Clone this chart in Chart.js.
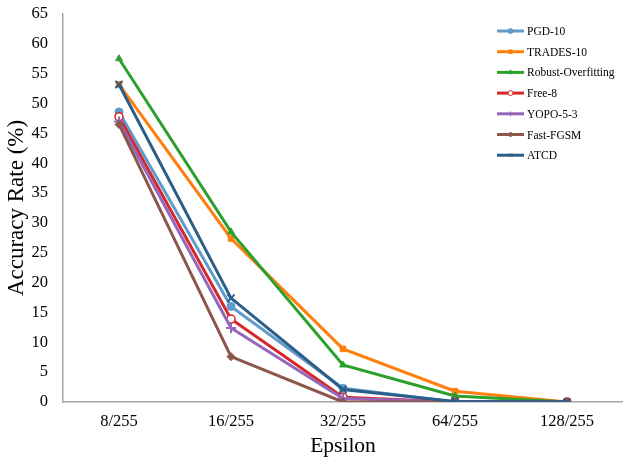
<!DOCTYPE html>
<html>
<head>
<meta charset="utf-8">
<script src="https://cdn.jsdelivr.net/npm/chart.js@4.4.0/dist/chart.umd.min.js"></script>
<style>
  html, body { margin: 0; padding: 0; background: #fff; }
  #wrap { width: 623px; height: 459px; }
</style>
</head>
<body>
<div id="wrap"><canvas id="chart"></canvas></div>
<script>
// epsilon levels on the x axis
const epsilons = ['8/255', '16/255', '32/255', '64/255', '128/255'];

// accuracy rate (%)
const pgd10   = [48.6, 16.0, 2.3, 0.0, 0.0];
const trades10 = [53.2, 27.4, 8.9, 1.8, 0.0];
const robustOF = [57.5, 28.5, 6.2, 1.0, 0.0];
const free8   = [47.8, 13.9, 0.8, 0.0, 0.0];
const yopo53  = [47.0, 12.4, 0.6, 0.0, 0.0];
const fastFgsm = [46.5, 7.6, 0.0, 0.0, 0.0];
const atcd    = [53.2, 17.4, 2.1, 0.1, 0.0];

const seriesNames = ['PGD-10', 'TRADES-10', 'Robust-Overfitting', 'Free-8', 'YOPO-5-3', 'Fast-FGSM', 'ATCD'];
const seriesData = [pgd10, trades10, robustOF, free8, yopo53, fastFgsm, atcd];
const seriesColors = ['#5f9bcb', '#ff7f0e', '#2ca02c', '#d62728', '#9467bd', '#8c564b', '#2b5e88'];
const seriesMarkers = ['circle', 'rect', 'triangle', 'circle', 'cross', 'rectRot', 'crossRot'];

const serif = "'Liberation Serif', 'Times New Roman', serif";

const datasets = seriesNames.map((name, i) => ({
    label: name,
    data: seriesData[i],
    borderColor: seriesColors[i],
    backgroundColor: i === 3 ? '#ffffff' : seriesColors[i],
    borderWidth: 3,
    pointStyle: seriesMarkers[i],
    pointRadius: i === 4 || i === 6 ? 5 : 4,
    pointBorderWidth: i === 3 ? 1.5 : (i === 4 || i === 6 ? 2 : 1),
    pointBorderColor: seriesColors[i],
    tension: 0,
    fill: false,
    order: seriesNames.length - i  // last series drawn on top
}));

// legend drawn inside the plot area, line with a small marker in the middle
const insideLegend = {
    id: 'insideLegend',
    afterDatasetsDraw(chart) {
        const ctx = chart.ctx;
        const x0 = 497, y0 = 31, step = 20.7;
        ctx.save();
        chart.data.datasets.forEach((ds, i) => {
            const y = y0 + i * step;
            ctx.strokeStyle = ds.borderColor;
            ctx.lineWidth = 3;
            ctx.beginPath();
            ctx.moveTo(x0, y);
            ctx.lineTo(x0 + 27, y);
            ctx.stroke();
            ctx.fillStyle = ds.backgroundColor;
            ctx.lineWidth = 1;
            Chart.helpers.drawPoint(ctx, {
                pointStyle: ds.pointStyle,
                radius: 2.5,
                borderWidth: 1
            }, x0 + 13.5, y);
            ctx.fillStyle = '#000';
            ctx.font = "11.5px " + serif;
            ctx.textBaseline = 'middle';
            ctx.textAlign = 'left';
            ctx.fillText(ds.label, x0 + 30, y + 1);
        });
        ctx.restore();
    }
};

// fixed axis boxes so the plot area lands where it does in the figure
function noPadding(scale) {
    scale.paddingLeft = 0;
    scale.paddingRight = 0;
    scale.paddingTop = 0;
    scale.paddingBottom = 0;
}

new Chart(document.getElementById('chart'), {
    type: 'line',
    data: { labels: epsilons, datasets },
    options: {
        responsive: true,
        maintainAspectRatio: false,
        animation: false,
        layout: { autoPadding: false, padding: { top: 14, right: 0, left: 3, bottom: 0 } },
        plugins: {
            legend: { display: false },
            tooltip: { enabled: false }
        },
        scales: {
            x: {
                offset: true,
                grid: { display: false, drawTicks: false },
                border: { color: '#a6a6a6', width: 1.5 },
                ticks: { color: '#000', font: { family: serif, size: 16.5 }, padding: 10 },
                title: { display: true, text: 'Epsilon', color: '#000', font: { family: serif, size: 21.5 }, padding: { top: 0, bottom: 0 } },
                afterFit(scale) {
                    scale.height = 57;
                    noPadding(scale);
                }
            },
            y: {
                min: 0,
                max: 65,
                grid: { display: false, drawTicks: false },
                border: { color: '#a6a6a6', width: 1.5 },
                ticks: { stepSize: 5, color: '#000', font: { family: serif, size: 16.5 }, padding: 15 },
                title: { display: true, text: 'Accuracy Rate (%)', color: '#000', font: { family: serif, size: 23 }, padding: { top: 0, bottom: 0 } },
                afterFit(scale) {
                    scale.width = 60;
                    noPadding(scale);
                }
            }
        }
    },
    plugins: [insideLegend]
});
</script>
</body>
</html>
